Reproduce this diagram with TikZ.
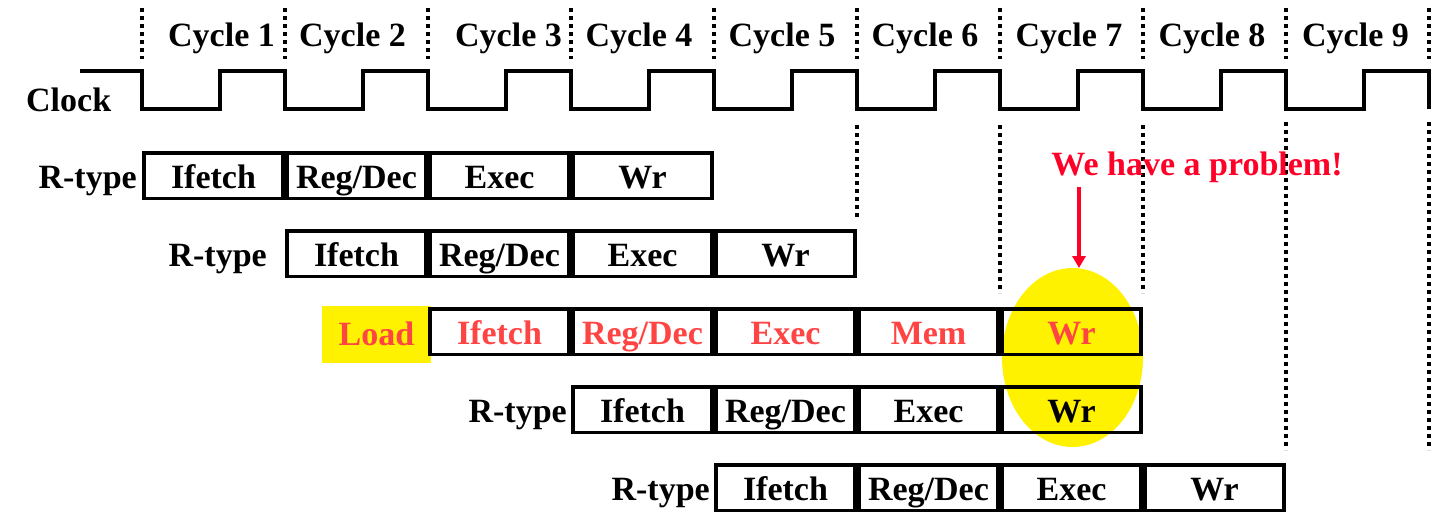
\documentclass[tikz,border=0pt]{standalone}
\usepackage{fontspec}
\setmainfont{Liberation Serif}
\usetikzlibrary{shapes.geometric,arrows.meta}
\definecolor{loadred}{RGB}{255,68,68}
\definecolor{probred}{RGB}{255,0,40}
\tikzset{
  lbl/.style={font=\bfseries\fontsize{34}{40}\selectfont, inner sep=0pt, text height=29pt, text depth=4pt},
  stagebox/.style={lbl, draw=black, line width=3.5pt, minimum width=139pt, minimum height=45.5pt},
  redtxt/.style={text=loadred},
  guide/.style={line width=4pt, dash pattern=on 4pt off 4pt},
  clk/.style={line width=3.5pt},
}
\begin{document}
\begin{tikzpicture}[x=1pt,y=-1pt]
\useasboundingbox (0,0) rectangle (1452,525);
% highlight ellipse
\node[ellipse, fill=yellow, draw=none, minimum width=141pt, minimum height=179pt, inner sep=0pt] (hl) at (1072.5,357.5) {};
% top dotted guides
\foreach \i in {0,...,9}{
  \draw[guide] (142+143*\i,8) -- (142+143*\i,59);
}
% lower dotted guides
\draw[guide] (857,125) -- (857,217);
\draw[guide] (1000,125) -- (1000,293);
\draw[guide] (1143,125) -- (1143,293);
\draw[guide] (1286,122) -- (1286,450);
\draw[guide] (1429,122) -- (1429,450);
% cycle labels
\foreach \n/\cx in {1/221.5,2/352.5,3/508.5,4/639,5/782,6/925,7/1069,8/1212,9/1355.5}{
  \node[lbl, anchor=base] (cyc\n) at (\cx,46) {Cycle \n};
}
% clock
\node[lbl, anchor=base west] (clock) at (26,111) {Clock};
\draw[clk] (80,71) -- (142,71)
  \foreach \i in {0,...,8}{ -- (142+143*\i,109) -- (220+143*\i,109) -- (220+143*\i,71) -- (285+143*\i,71) }
  -- (1429,109);
% row 1
\node[lbl, anchor=east] (rt1) at (137,175.5) {R-type};
\node[stagebox] (a1) at (213.5,175.5) {Ifetch};
\node[stagebox] (a2) at (356.5,175.5) {Reg/Dec};
\node[stagebox] (a3) at (499.5,175.5) {Exec};
\node[stagebox] (a4) at (642.5,175.5) {Wr};
% row 2
\node[lbl, anchor=east] (rt2) at (267,253.5) {R-type};
\node[stagebox] (b1) at (356.5,253.5) {Ifetch};
\node[stagebox] (b2) at (499.5,253.5) {Reg/Dec};
\node[stagebox] (b3) at (642.5,253.5) {Exec};
\node[stagebox] (b4) at (785.5,253.5) {Wr};
% row 3 (load)
\node[lbl, fill=yellow, text=loadred, minimum width=109pt, minimum height=57pt, text height=27pt, text depth=6pt] (ld) at (376.5,334.5) {Load};
\node[stagebox, redtxt] (c1) at (499.5,331.5) {Ifetch};
\node[stagebox, redtxt] (c2) at (642.5,331.5) {Reg/Dec};
\node[stagebox, redtxt] (c3) at (785.5,331.5) {Exec};
\node[stagebox, redtxt] (c4) at (928.5,331.5) {Mem};
\node[stagebox, redtxt] (c5) at (1071.5,331.5) {Wr};
% row 4
\node[lbl, anchor=east] (rt4) at (567,409.5) {R-type};
\node[stagebox] (d1) at (642.5,409.5) {Ifetch};
\node[stagebox] (d2) at (785.5,409.5) {Reg/Dec};
\node[stagebox] (d3) at (928.5,409.5) {Exec};
\node[stagebox] (d4) at (1071.5,409.5) {Wr};
% row 5
\node[lbl, anchor=east] (rt5) at (710,487.5) {R-type};
\node[stagebox] (e1) at (785.5,487.5) {Ifetch};
\node[stagebox] (e2) at (928.5,487.5) {Reg/Dec};
\node[stagebox] (e3) at (1071.5,487.5) {Exec};
\node[stagebox] (e4) at (1214.5,487.5) {Wr};
% problem note
\node[lbl, text=probred, anchor=base] (prob) at (1197,175) {We have a problem!};
\coordinate (ar1) at (1079,187);
\coordinate (ar2) at (1079,268);
\draw[probred, line width=3.5pt, -{Triangle[width=13pt,length=12pt]}] (ar1) -- (ar2);
\end{tikzpicture}
\end{document}
